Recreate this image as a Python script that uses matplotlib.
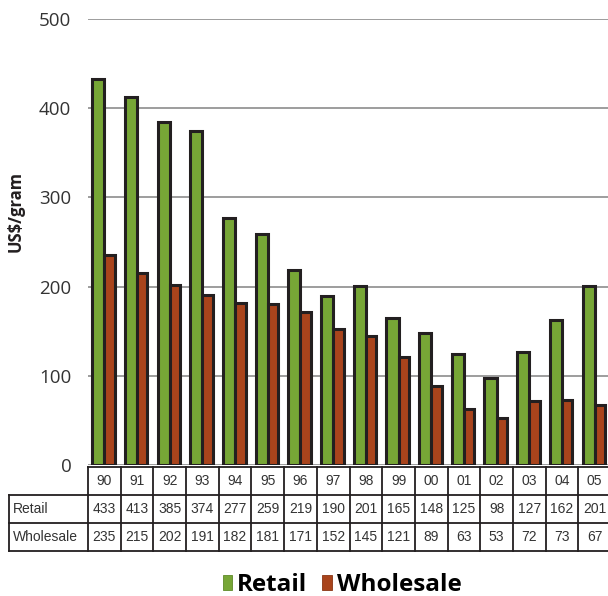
import matplotlib
matplotlib.use("Agg")
import matplotlib.pyplot as plt
import numpy as np
from matplotlib.patches import Patch

years = ["90", "91", "92", "93", "94", "95", "96", "97", "98", "99",
         "00", "01", "02", "03", "04", "05"]
retail = [433, 413, 385, 374, 277, 259, 219, 190, 201, 165, 148, 125, 98, 127, 162, 201]
wholesale = [235, 215, 202, 191, 182, 181, 171, 152, 145, 121, 89, 63, 53, 72, 73, 67]
row_labels = ["Retail", "Wholesale"]
yticks = [0, 100, 200, 300, 400, 500]

GREEN, RED, EDGE = "#77a636", "#a9441c", "#231f20"
W, H = 608, 596
fig = plt.figure(figsize=(W / 100, H / 100), dpi=100)

# plot area in pixel terms of the reference
left, right, top, bottom = 88, 611, 19, 465
ax = fig.add_axes([left / W, 1 - bottom / H, (right - left) / W, (bottom - top) / H])
x = np.arange(len(years))
ax.bar(x - 0.37, retail, width=0.37, align="edge", color=GREEN,
       edgecolor=EDGE, lw=2.2, zorder=3)
ax.bar(x, wholesale, width=0.32, align="edge", color=RED,
       edgecolor=EDGE, lw=2.2, zorder=4)
ax.set_xlim(-0.5, len(years) - 0.5)
ax.set_ylim(0, 500)
ax.set_yticks(yticks)
ax.set_xticks([])
ax.yaxis.grid(True, color="#8c8c8c", lw=1.2, zorder=0)
ax.set_axisbelow(True)
for s in ax.spines.values():
    s.set_visible(False)
ax.tick_params(axis="y", length=0, pad=12, labelsize=13.5, labelcolor="#333333")
for t in ax.get_yticklabels():
    t.set_family("Open Sans")

fig.text(16 / W, 1 - 211 / H, "US$/gram", rotation=90, ha="center", va="center",
         fontsize=12, fontweight="bold", family="Open Sans", color="#231f20")

# data table under the bars
t_left, t_top, t_bot = 9.3, 467, 551
slot = (right - left) / len(years)
lab_w = (left - t_left) / slot
tax = fig.add_axes([t_left / W, 1 - t_bot / H, (right - t_left) / W, (t_bot - t_top) / H])
x0 = -0.5 - lab_w
xend = len(years) - 0.5
tax.set_xlim(x0, xend)
tax.set_ylim(3, 0)
tax.axis("off")
lk = dict(color=EDGE, lw=1.3, clip_on=False, solid_capstyle="projecting")
tax.plot([-0.5, xend], [0, 0], **lk)
for yy in (1, 2, 3):
    tax.plot([x0, xend], [yy, yy], **lk)
tax.plot([x0, x0], [1, 3], **lk)
for k in range(len(years) + 1):
    tax.plot([k - 0.5, k - 0.5], [0, 3], **lk)
tf = dict(fontsize=10, family="Liberation Sans", color="#333333", va="center")
for i, yr in enumerate(years):
    tax.text(i, 0.5, yr, ha="center", **tf)
    tax.text(i, 1.5, str(retail[i]), ha="center", **tf)
    tax.text(i, 2.5, str(wholesale[i]), ha="center", **tf)
for r, lab in enumerate(row_labels):
    tax.text(x0 + 0.12, 1.5 + r, lab, ha="left", **tf)

handles = [Patch(facecolor=GREEN, edgecolor="#5e8a28", lw=0.6, label="Retail"),
           Patch(facecolor=RED, edgecolor="#8a3514", lw=0.6, label="Wholesale")]
fig.legend(handles=handles, loc="center", bbox_to_anchor=(342 / W, 1 - 585 / H),
           ncol=2, frameon=False, handlelength=0.4, handleheight=0.6,
           handletextpad=0.2, columnspacing=0.6,
           prop=dict(family="Open Sans", weight="bold", size=17.5))

fig.savefig("out.png", dpi=100)
